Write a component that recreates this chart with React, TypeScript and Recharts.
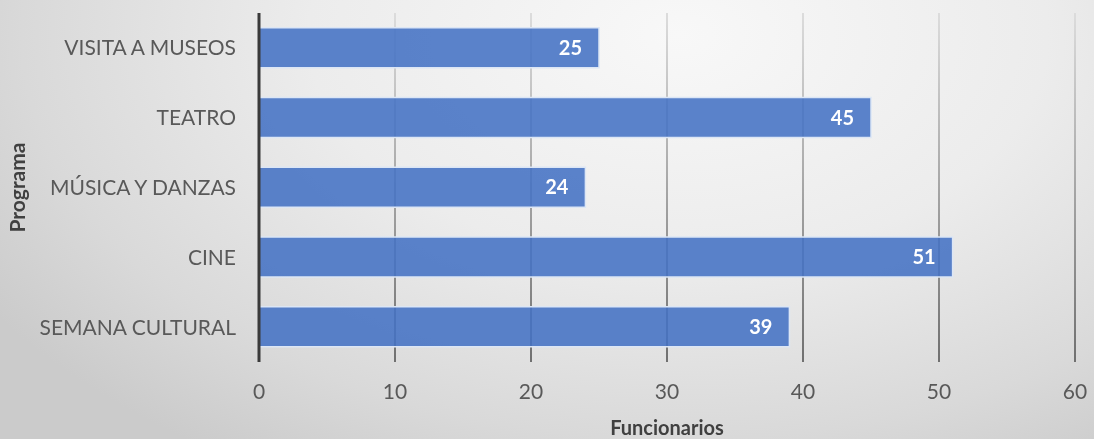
import React from 'react';
import { BarChart, Bar, XAxis, YAxis, CartesianGrid, LabelList } from 'recharts';

const categories = ['VISITA A MUSEOS', 'TEATRO', 'MÚSICA Y DANZAS', 'CINE', 'SEMANA CULTURAL'];
const values = [25, 45, 24, 51, 39];
const xTicks = [0, 10, 20, 30, 40, 50, 60];

const data = categories.map((c, i) => ({ programa: c, funcionarios: values[i] }));

const FONT = 'Lato, "Open Sans", sans-serif';

export default function App() {
  return (
    <div
      style={{
        position: 'fixed',
        left: 0,
        top: 0,
        width: 1094,
        height: 439,
        background:
          'radial-gradient(ellipse 75% 115% at 62% 8%, #f8f8f8 0%, #ececec 45%, #d9d9d9 80%, #cbcbcb 100%)',
      }}
    >
      <BarChart
        width={1094}
        height={439}
        data={data}
        layout="vertical"
        margin={{ top: 13, right: 19, bottom: 0, left: 0 }}
        barCategoryGap="21%"
      >
        <defs>
          <linearGradient id="gridGrad" x1="0" y1="13" x2="0" y2="362" gradientUnits="userSpaceOnUse">
            <stop offset="0%" stopColor="#dcdcdc" />
            <stop offset="100%" stopColor="#707070" />
          </linearGradient>
        </defs>
        <CartesianGrid horizontal={false} vertical stroke="url(#gridGrad)" strokeWidth={2} />
        <XAxis
          type="number"
          domain={[0, 60]}
          ticks={xTicks}
          axisLine={false}
          tickLine={false}
          tickSize={0}
          tickMargin={22}
          height={77}
          tick={{ fill: '#595959', fontSize: 21, fontFamily: FONT }}
          label={{
            value: 'Funcionarios',
            position: 'insideBottom',
            offset: 4,
            fill: '#404040',
            fontSize: 20,
            fontWeight: 700,
            fontFamily: FONT,
          }}
        />
        <YAxis
          type="category"
          dataKey="programa"
          width={259}
          axisLine={{ stroke: '#3a3a3a', strokeWidth: 3 }}
          tickLine={false}
          tickSize={0}
          tickMargin={23}
          tick={{ fill: '#595959', fontSize: 21, fontFamily: FONT }}
          label={{
            value: 'Programa',
            angle: -90,
            position: 'insideLeft',
            offset: 18,
            fill: '#404040',
            fontSize: 21,
            fontWeight: 700,
            fontFamily: FONT,
            style: { textAnchor: 'middle' },
          }}
        />
        <Bar
          dataKey="funcionarios"
          fill="#4472C4"
          fillOpacity={0.88}
          stroke="#dce6f5"
          strokeWidth={1.5}
          isAnimationActive={false}
        >
          <LabelList
            dataKey="funcionarios"
            position="insideRight"
            offset={17}
            fill="#ffffff"
            fontSize={20}
            fontWeight={700}
            fontFamily={FONT}
          />
        </Bar>
      </BarChart>
    </div>
  );
}
